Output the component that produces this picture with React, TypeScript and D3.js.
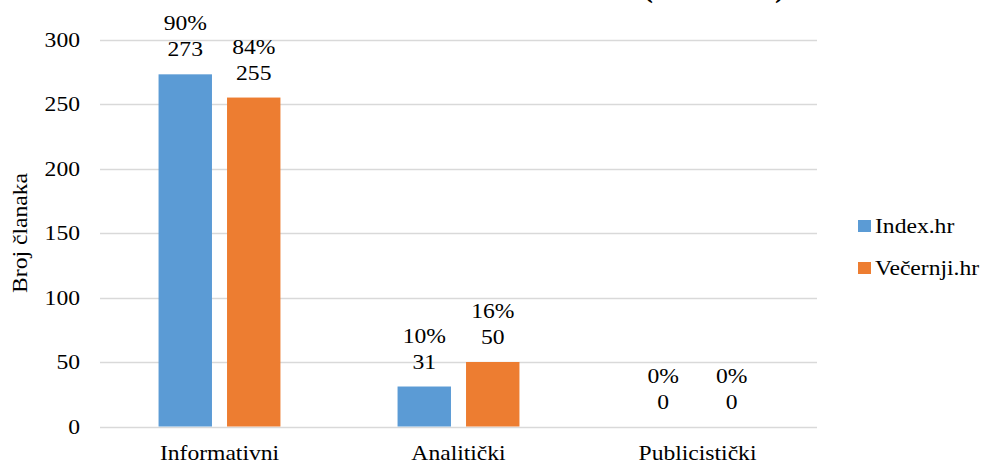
import * as d3 from 'd3';
import { useEffect, useRef } from 'react';

const categories = ['Informativni', 'Analitički', 'Publicistički'];
const seriesNames = ['Index.hr', 'Večernji.hr'];
const indexValues = [273, 31, 0];
const vecernjiValues = [255, 50, 0];
const indexPct = ['90%', '10%', '0%'];
const vecernjiPct = ['84%', '16%', '0%'];
const yTicks = [0, 50, 100, 150, 200, 250, 300];
const colors = ['#5B9BD5', '#ED7D31'];

const W = 987;
const H = 463;
const SX = 1.18; // source image is stretched horizontally
const FONT = "'Liberation Serif', 'Times New Roman', serif";

export default function App() {
  const svgRef = useRef<SVGSVGElement>(null);

  useEffect(() => {
    if (!svgRef.current) return;
    const svg = d3.select(svgRef.current);
    svg.selectAll('*').remove();

    const left = 100;
    const right = 817;

    const y = d3.scaleLinear().domain([0, 300]).range([426.5, 39.5]);
    const x0 = d3.scaleBand().domain(categories).range([left, right]).paddingInner(0.49).paddingOuter(0.245);
    const x1 = d3.scaleBand().domain(seriesNames).range([0, x0.bandwidth()]).paddingInner(0.22);

    const text = (
      g: d3.Selection<any, any, any, any>,
      tx: number,
      ty: number,
      s: string,
      anchor = 'middle',
      size = 20
    ) =>
      g
        .append('text')
        .attr('transform', `translate(${tx},${ty}) scale(${SX},1)`)
        .attr('text-anchor', anchor)
        .style('font-family', FONT)
        .style('font-size', `${size}px`)
        .attr('fill', '#000')
        .text(s);

    // cut-off title, only the bottom of the brackets shows
    svg
      .append('text')
      .attr('x', 714)
      .attr('y', -3)
      .attr('text-anchor', 'middle')
      .style('font-family', FONT)
      .style('font-weight', 'bold')
      .style('font-size', '30px')
      .attr('textLength', 142)
      .attr('lengthAdjust', 'spacing')
      .text('(N = 304)');

    // gridlines
    svg
      .append('g')
      .selectAll('line')
      .data(yTicks)
      .join('line')
      .attr('x1', left)
      .attr('x2', right)
      .attr('y1', (d) => Math.round(y(d)) + 0.5)
      .attr('y2', (d) => Math.round(y(d)) + 0.5)
      .attr('stroke', '#D9D9D9')
      .attr('stroke-width', 1.3);

    // y tick labels
    const yl = svg.append('g');
    yTicks.forEach((t) => text(yl, 80, y(t) + 7, String(t), 'end'));

    // y axis title
    svg
      .append('text')
      .attr('transform', `translate(27,233) rotate(-90) scale(${SX},1)`)
      .attr('text-anchor', 'middle')
      .style('font-family', FONT)
      .style('font-size', '20px')
      .text('Broj članaka');

    const seriesData = [indexValues, vecernjiValues];
    const seriesPct = [indexPct, vecernjiPct];

    seriesNames.forEach((name, si) => {
      const g = svg.append('g');
      g.selectAll('rect')
        .data(categories)
        .join('rect')
        .attr('x', (c) => (x0(c) ?? 0) + (x1(name) ?? 0))
        .attr('y', (_, i) => y(seriesData[si][i]))
        .attr('width', x1.bandwidth())
        .attr('height', (_, i) => y(0) - y(seriesData[si][i]))
        .attr('fill', colors[si]);

      categories.forEach((c, i) => {
        const cx = (x0(c) ?? 0) + (x1(name) ?? 0) + x1.bandwidth() / 2;
        const top = y(seriesData[si][i]);
        text(g, cx, top - 44, seriesPct[si][i]);
        text(g, cx, top - 18, String(seriesData[si][i]));
      });
    });

    // category labels
    const xl = svg.append('g');
    categories.forEach((c) => text(xl, (x0(c) ?? 0) + x0.bandwidth() / 2, 460, c));

    // legend
    const lg = svg.append('g');
    seriesNames.forEach((name, i) => {
      const ly = 220 + i * 42;
      lg.append('rect').attr('x', 858).attr('y', ly).attr('width', 13).attr('height', 12).attr('fill', colors[i]);
      text(lg, 875, ly + 13, name, 'start');
    });
  }, []);

  return (
    <svg
      ref={svgRef}
      width={W}
      height={H}
      style={{ position: 'absolute', left: 0, top: 0, background: '#fff' }}
    />
  );
}
